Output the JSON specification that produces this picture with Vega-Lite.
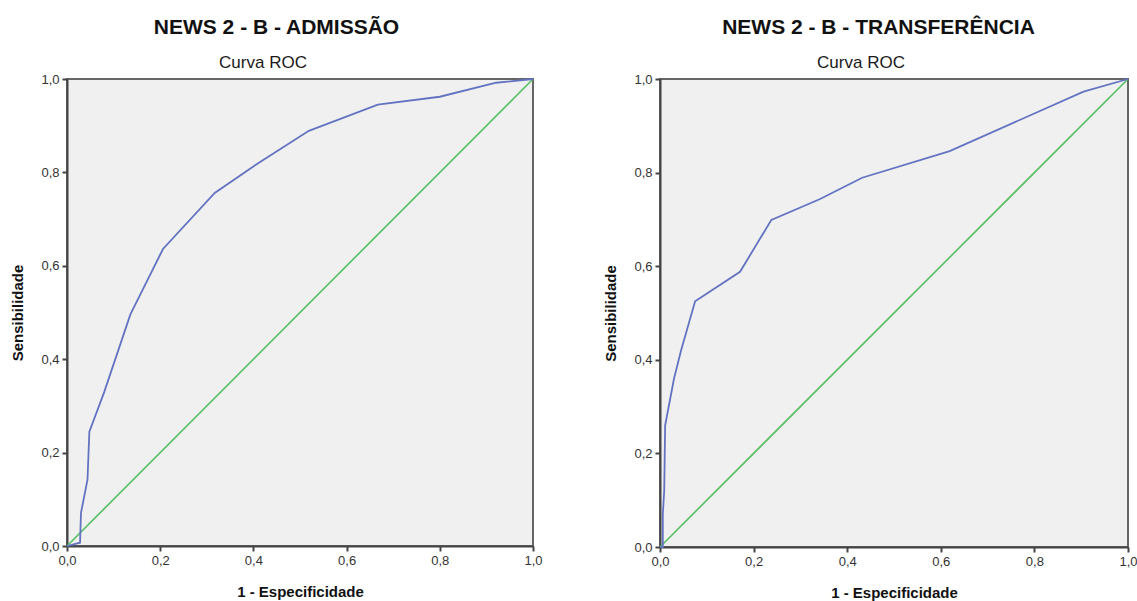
{
  "$schema": "https://vega.github.io/schema/vega-lite/v6.json",
  "background": "white",
  "padding": {"left": 9, "top": 17, "right": 0, "bottom": 0},
  "spacing": 58,
  "datasets": {
    "adm": [
      {"x": 0.0, "y": 0.0},
      {"x": 0.028, "y": 0.007},
      {"x": 0.030, "y": 0.071},
      {"x": 0.044, "y": 0.142},
      {"x": 0.048, "y": 0.245},
      {"x": 0.08, "y": 0.33},
      {"x": 0.136, "y": 0.496},
      {"x": 0.206, "y": 0.636},
      {"x": 0.317, "y": 0.756},
      {"x": 0.406, "y": 0.817},
      {"x": 0.519, "y": 0.889},
      {"x": 0.667, "y": 0.945},
      {"x": 0.800, "y": 0.962},
      {"x": 0.921, "y": 0.992},
      {"x": 1.0, "y": 1.0}
    ],
    "trans": [
      {"x": 0.0, "y": 0.0},
      {"x": 0.006, "y": 0.0},
      {"x": 0.006, "y": 0.07},
      {"x": 0.009, "y": 0.12},
      {"x": 0.011, "y": 0.26},
      {"x": 0.03, "y": 0.36},
      {"x": 0.045, "y": 0.42},
      {"x": 0.075, "y": 0.525},
      {"x": 0.171, "y": 0.588},
      {"x": 0.238, "y": 0.699},
      {"x": 0.341, "y": 0.743},
      {"x": 0.432, "y": 0.789},
      {"x": 0.619, "y": 0.846},
      {"x": 0.905, "y": 0.973},
      {"x": 1.0, "y": 1.0}
    ],
    "diag": [
      {"x": 0.0, "y": 0.0},
      {"x": 1.0, "y": 1.0}
    ]
  },
  "hconcat": [
    {
      "title": {"text": "NEWS 2 - B - ADMISSÃO", "dx": 0},
      "vconcat": [
        {
          "width": 466,
          "height": 467,
          "title": {"text": "Curva ROC", "fontSize": 17, "fontWeight": "normal", "color": "#1a1a1a", "offset": 1, "dx": -37},
          "layer": [
            {
              "data": {"name": "diag"},
              "mark": {"type": "line", "color": "#55bf62", "strokeWidth": 1.6},
              "encoding": {
                "x": {"field": "x", "type": "quantitative"},
                "y": {"field": "y", "type": "quantitative"}
              }
            },
            {
              "data": {"name": "adm"},
              "mark": {"type": "line", "color": "#6373c2", "strokeWidth": 1.8},
              "encoding": {
                "x": {"field": "x", "type": "quantitative", "scale": {"domain": [0, 1], "nice": false}, "title": "1 - Especificidade", "axis": {"values": [0, 0.2, 0.4, 0.6, 0.8, 1.0]}},
                "y": {"field": "y", "type": "quantitative", "scale": {"domain": [0, 1], "nice": false}, "title": "Sensibilidade", "axis": {"values": [0, 0.2, 0.4, 0.6, 0.8, 1.0]}},
                "order": [{"field": "x"}, {"field": "y"}]
              }
            }
          ]
        }
      ]
    },
    {
      "title": {"text": "NEWS 2 - B - TRANSFERÊNCIA", "dx": 8},
      "vconcat": [
        {
          "width": 468,
          "height": 468,
          "title": {"text": "Curva ROC", "fontSize": 17, "fontWeight": "normal", "color": "#1a1a1a", "offset": 1, "dx": -33},
          "layer": [
            {
              "data": {"name": "diag"},
              "mark": {"type": "line", "color": "#55bf62", "strokeWidth": 1.6},
              "encoding": {
                "x": {"field": "x", "type": "quantitative"},
                "y": {"field": "y", "type": "quantitative"}
              }
            },
            {
              "data": {"name": "trans"},
              "mark": {"type": "line", "color": "#6373c2", "strokeWidth": 1.8},
              "encoding": {
                "x": {"field": "x", "type": "quantitative", "scale": {"domain": [0, 1], "nice": false}, "title": "1 - Especificidade", "axis": {"values": [0, 0.2, 0.4, 0.6, 0.8, 1.0]}},
                "y": {"field": "y", "type": "quantitative", "scale": {"domain": [0, 1], "nice": false}, "title": "Sensibilidade", "axis": {"values": [0, 0.2, 0.4, 0.6, 0.8, 1.0]}},
                "order": [{"field": "x"}, {"field": "y"}]
              }
            }
          ]
        }
      ]
    }
  ],
  "config": {
    "font": "Liberation Sans",
    "view": {"fill": "#f0f0f0", "stroke": "#666666", "strokeWidth": 2},
    "title": {"fontSize": 21, "fontWeight": "bold", "color": "#111111", "anchor": "middle", "offset": 15, "font": "Liberation Sans"},
    "axis": {
      "grid": false,
      "labelExpr": "replace(format(datum.value, '.1f'), '.', ',')",
      "domainColor": "#444444",
      "domainWidth": 2,
      "tickColor": "#444444",
      "tickWidth": 2,
      "tickSize": 5,
      "labelColor": "#333333",
      "labelFontSize": 13,
      "labelFont": "Liberation Sans",
      "labelPadding": 3,
      "titleFont": "Liberation Sans",
      "titleFontSize": 15,
      "titleFontWeight": "bold",
      "titleColor": "#111111"
    },
    "axisX": {"titlePadding": 17, "labelFlush": false},
    "axisY": {"titlePadding": 15, "labelFlush": false}
  }
}
